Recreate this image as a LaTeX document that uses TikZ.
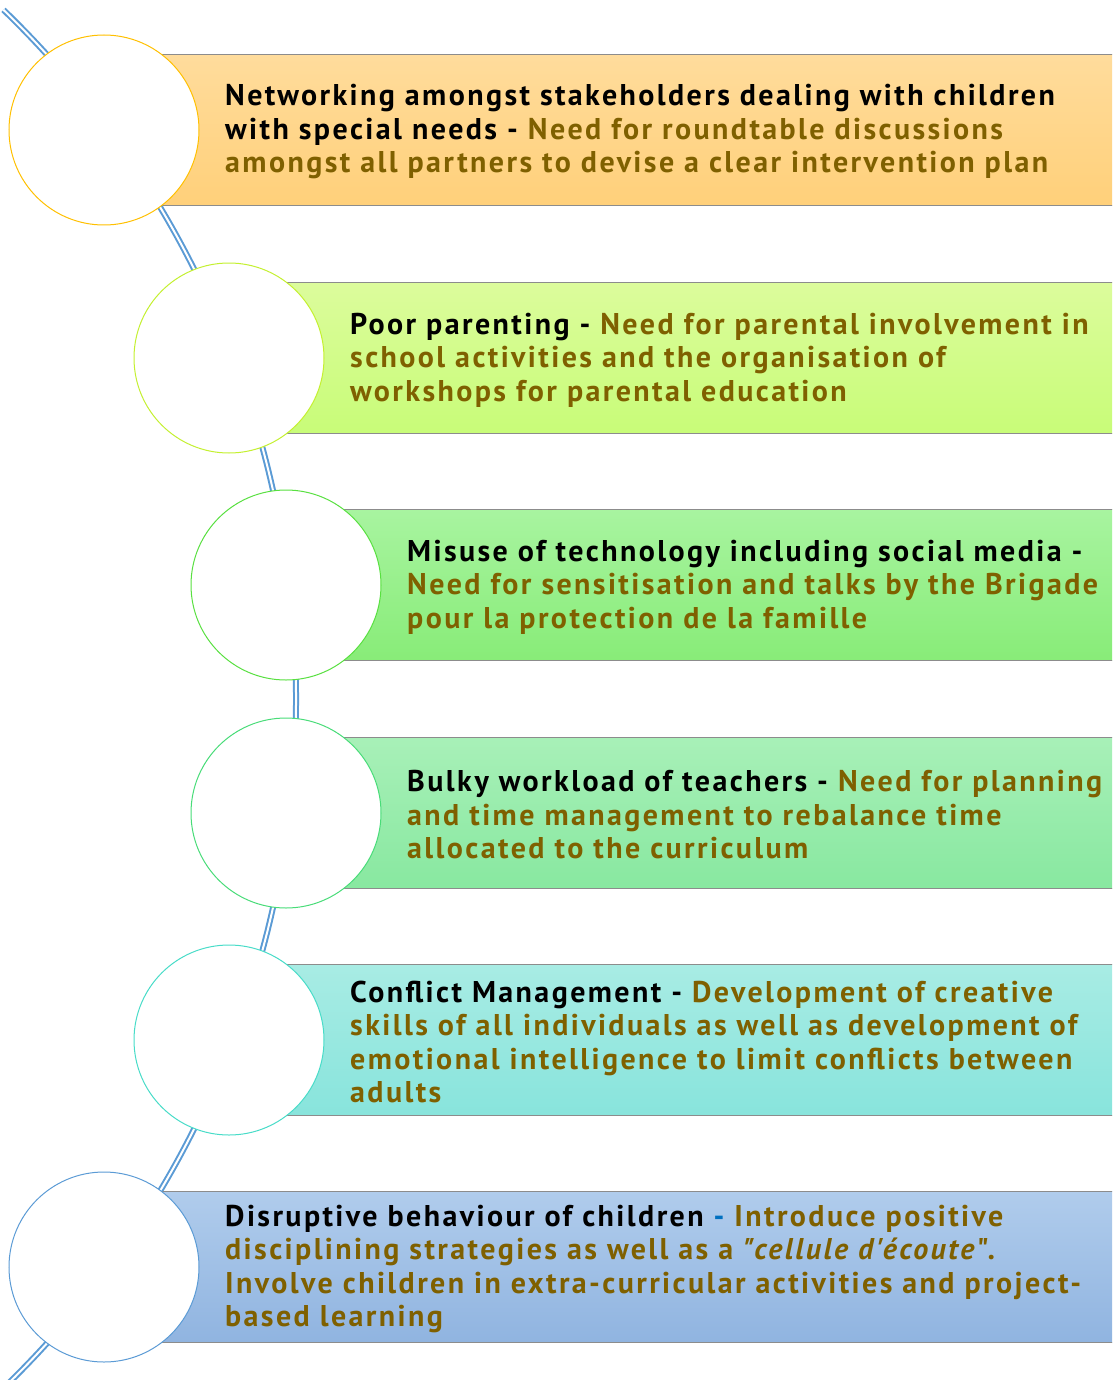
\documentclass[tikz,border=0pt]{standalone}
\usepackage{fontspec}
\newfontfamily\bandfont{PT Sans}[LetterSpace=8.0]
\definecolor{brn}{HTML}{7F6000}
\definecolor{arcblue}{HTML}{5B9BD5}
\definecolor{dashblue}{HTML}{0070C0}
\definecolor{rule}{HTML}{8C8C8C}
\begin{document}
\begin{tikzpicture}[x=1pt,y=-1pt,
  band/.style={rectangle,anchor=west,minimum width=1200pt,minimum height=151pt,inner sep=0pt},
  circ/.style={circle,fill=white,minimum size=190pt,inner sep=0pt,line width=1pt},
  txt/.style={anchor=west,align=left,inner sep=0pt,yshift=-2pt,text=brn,font=\bandfont\bfseries\fontsize{30}{33.5}\selectfont}]
\useasboundingbox (0,0) rectangle (1112,1380);
\clip (0,0) rectangle (1112,1380);
% the spine
\draw[arcblue,line width=2pt,double=white,double distance=2pt] (-662,699) ++(46:958) arc[start angle=46,end angle=-46,radius=958];
% bands
\node[band,top color={rgb,255:red,255;green,220;blue,156},bottom color={rgb,255:red,255;green,208;blue,122}] (b1) at (104,130) {};
\node[band,top color={rgb,255:red,220;green,252;blue,156},bottom color={rgb,255:red,200;green,252;blue,120}] (b2) at (229,358) {};
\node[band,top color={rgb,255:red,168;green,244;blue,160},bottom color={rgb,255:red,136;green,236;blue,120}] (b3) at (286,585) {};
\node[band,top color={rgb,255:red,168;green,240;blue,184},bottom color={rgb,255:red,136;green,232;blue,160}] (b4) at (286,813) {};
\node[band,top color={rgb,255:red,168;green,236;blue,228},bottom color={rgb,255:red,136;green,228;blue,220}] (b5) at (229,1040) {};
\node[band,top color={rgb,255:red,176;green,204;blue,236},bottom color={rgb,255:red,144;green,180;blue,224}] (b6) at (104,1267) {};
\foreach \b in {b1,b2,b3,b4,b5,b6}{
  \draw[rule,line width=1.5pt] (\b.north west) -- (\b.north east);
  \draw[rule,line width=1.5pt] (\b.south west) -- (\b.south east);
}
% circles
\node[circ,draw={rgb,255:red,255;green,192;blue,0}] (c1) at (104,130) {};
\node[circ,draw={rgb,255:red,196;green,240;blue,48}] (c2) at (229,358) {};
\node[circ,draw={rgb,255:red,88;green,224;blue,64}] (c3) at (286,585) {};
\node[circ,draw={rgb,255:red,72;green,220;blue,120}] (c4) at (286,813) {};
\node[circ,draw={rgb,255:red,72;green,220;blue,200}] (c5) at (229,1040) {};
\node[circ,draw=arcblue] (c6) at (104,1267) {};
% texts
\node[txt] (t1) at (225,130) {\textcolor{black}{Networking amongst stakeholders dealing with children}\\
\textcolor{black}{with special needs -} Need for roundtable discussions\\
amongst all partners to devise a clear intervention plan};
\node[txt] (t2) at (350,358) {\textcolor{black}{Poor parenting -} Need for parental involvement in\\
school activities and the organisation of\\
workshops for parental education};
\node[txt] (t3) at (407,585) {\textcolor{black}{Misuse of technology including social media -}\\
Need for sensitisation and talks by the Brigade\\
pour la protection de la famille};
\node[txt] (t4) at (407,813) {\textcolor{black}{Bulky workload of teachers -} Need for planning\\
and time management to rebalance time\\
allocated to the curriculum};
\node[txt] (t5) at (350,1040) {\textcolor{black}{Conflict Management -} Development of creative\\
skills of all individuals as well as development of\\
emotional intelligence to limit conflicts between\\
adults};
\node[txt] (t6) at (225,1267) {\textcolor{black}{Disruptive behaviour of children} \textcolor{dashblue}{-} Introduce positive\\
disciplining strategies as well as a \textit{"cellule d'écoute}".\\
Involve children in extra-curricular activities and project-\\
based learning};
\end{tikzpicture}
\end{document}
